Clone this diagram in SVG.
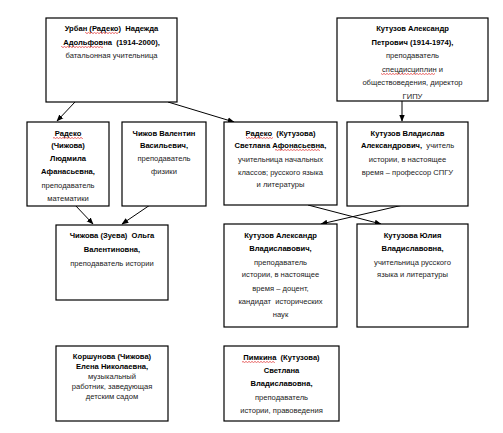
<svg xmlns="http://www.w3.org/2000/svg" width="503" height="433" viewBox="0 0 503 433">
<defs>
<style>
.box{fill:#fff;stroke:#000;stroke-width:1.2}
text{font-family:"Liberation Sans",Arial,sans-serif;font-size:7.6px;text-anchor:middle;fill:#222;white-space:pre}
.b{font-weight:bold;fill:#000}
.c{stroke:#000;stroke-width:1;fill:none;marker-end:url(#ah)}
.w{fill:url(#wave)}
</style>
<marker id="ah" viewBox="0 0 10 10" refX="9" refY="5" markerWidth="7" markerHeight="7" orient="auto" markerUnits="userSpaceOnUse">
<path d="M0,1 L10,5 L0,9 Z" fill="#000"/>
</marker>
<pattern id="wave" width="3" height="2" patternUnits="userSpaceOnUse">
<path d="M0,1.6 L1.5,0.4 L3,1.6" stroke="#e02020" stroke-width="0.7" fill="none"/>
</pattern>
</defs>
<rect width="503" height="433" fill="#fff"/>
<g id="connectors">
<line class="c" x1="75" y1="102" x2="57" y2="121"/>
<line class="c" x1="168" y1="102" x2="234" y2="122"/>
<line class="c" x1="402" y1="101" x2="402" y2="121"/>
<line class="c" x1="75" y1="205" x2="93" y2="224"/>
<line class="c" x1="150" y1="205" x2="122" y2="224"/>
<line class="c" x1="308" y1="205" x2="381" y2="224"/>
<line class="c" x1="403" y1="205" x2="321" y2="224"/>
</g>
<g id="n1">
<rect class="box" x="46" y="18" width="131" height="84"/>
<text x="111.5" y="31" xml:space="preserve" class="b">Урбан (Радеко)  Надежда</text>
<text x="111.5" y="45" xml:space="preserve" class="b">Адольфовна  (1914-2000),</text>
<text x="111.5" y="58">батальонная учительница</text>
<rect class="w" x="85" y="32" width="33" height="2"/>
<rect class="w" x="61" y="46" width="42" height="2"/>
</g>
<g id="n2">
<rect class="box" x="337" y="18" width="151" height="83"/>
<text x="412.5" y="31" class="b">Кутузов Александр</text>
<text x="412.5" y="45" class="b">Петрович (1914-1974),</text>
<text x="412.5" y="58">преподаватель</text>
<text x="412.5" y="72">спецдисциплин и</text>
<text x="412.5" y="85">обществоведения, директор</text>
<text x="412.5" y="99">ГИПУ</text>
<rect class="w" x="381" y="73" width="54" height="2"/>
</g>
<g id="n3">
<rect class="box" x="27" y="122" width="82" height="84"/>
<text x="68" y="136" class="b">Радеко</text>
<text x="68" y="148" class="b">(Чижова)</text>
<text x="68" y="161" class="b">Людмила</text>
<text x="68" y="174" class="b">Афанасьевна,</text>
<text x="68" y="188">преподаватель</text>
<text x="68" y="201">математики</text>
<rect class="w" x="53" y="137" width="30" height="2"/>
</g>
<g id="n4">
<rect class="box" x="122" y="122" width="84" height="84"/>
<text x="164" y="136" class="b">Чижов Валентин</text>
<text x="164" y="148" class="b">Васильевич,</text>
<text x="164" y="161">преподаватель</text>
<text x="164" y="174">физики</text>
</g>
<g id="n5">
<rect class="box" x="224" y="122" width="113" height="83"/>
<text x="280.5" y="136" xml:space="preserve" class="b">Радеко  (Кутузова)</text>
<text x="280.5" y="148" class="b">Светлана Афонасьевна,</text>
<text x="280.5" y="162">учительница начальных</text>
<text x="280.5" y="175">классов; русского языка</text>
<text x="280.5" y="187">и литературы</text>
<rect class="w" x="246" y="137" width="27" height="2"/>
<rect class="w" x="275" y="149" width="45" height="2"/>
</g>
<g id="n6">
<rect class="box" x="347" y="122" width="121" height="84"/>
<text x="407.5" y="136" class="b">Кутузов Владислав</text>
<text x="407.5" y="148" xml:space="preserve"><tspan class="b">Александрович,</tspan>  учитель</text>
<text x="407.5" y="162">истории, в настоящее</text>
<text x="407.5" y="175">время – профессор СПГУ</text>
</g>
<g id="n7">
<rect class="box" x="56" y="225" width="112" height="75"/>
<text x="112" y="238" xml:space="preserve" class="b">Чижова (Зуева)  Ольга</text>
<text x="112" y="252" class="b">Валентиновна,</text>
<text x="112" y="266">преподаватель истории</text>
</g>
<g id="n8">
<rect class="box" x="224" y="224" width="113" height="103"/>
<text x="280.5" y="238" class="b">Кутузов Александр</text>
<text x="280.5" y="251" class="b">Владиславович,</text>
<text x="280.5" y="265">преподаватель</text>
<text x="280.5" y="277">истории, в настоящее</text>
<text x="280.5" y="291">время – доцент,</text>
<text x="280.5" y="304" xml:space="preserve">кандидат  исторических</text>
<text x="280.5" y="317">наук</text>
</g>
<g id="n9">
<rect class="box" x="357" y="224" width="111" height="103"/>
<text x="412.5" y="238" class="b">Кутузова Юлия</text>
<text x="412.5" y="251" class="b">Владиславовна,</text>
<text x="412.5" y="265">учительница русского</text>
<text x="412.5" y="277">языка и литературы</text>
</g>
<g id="n10">
<rect class="box" x="56" y="346" width="112" height="75"/>
<text x="112" y="359" class="b">Коршунова (Чижова)</text>
<text x="112" y="369" class="b">Елена Николаевна,</text>
<text x="112" y="379">музыкальный</text>
<text x="112" y="389">работник, заведующая</text>
<text x="112" y="399">детским садом</text>
</g>
<g id="n11">
<rect class="box" x="224" y="346" width="115" height="75"/>
<text x="281.5" y="360" xml:space="preserve" class="b">Пимкина  (Кутузова)</text>
<text x="281.5" y="373" class="b">Светлана</text>
<text x="281.5" y="386" class="b">Владиславовна,</text>
<text x="281.5" y="400">преподаватель</text>
<text x="281.5" y="413">истории, правоведения</text>
<rect class="w" x="242" y="361" width="33" height="2"/>
</g>
</svg>
